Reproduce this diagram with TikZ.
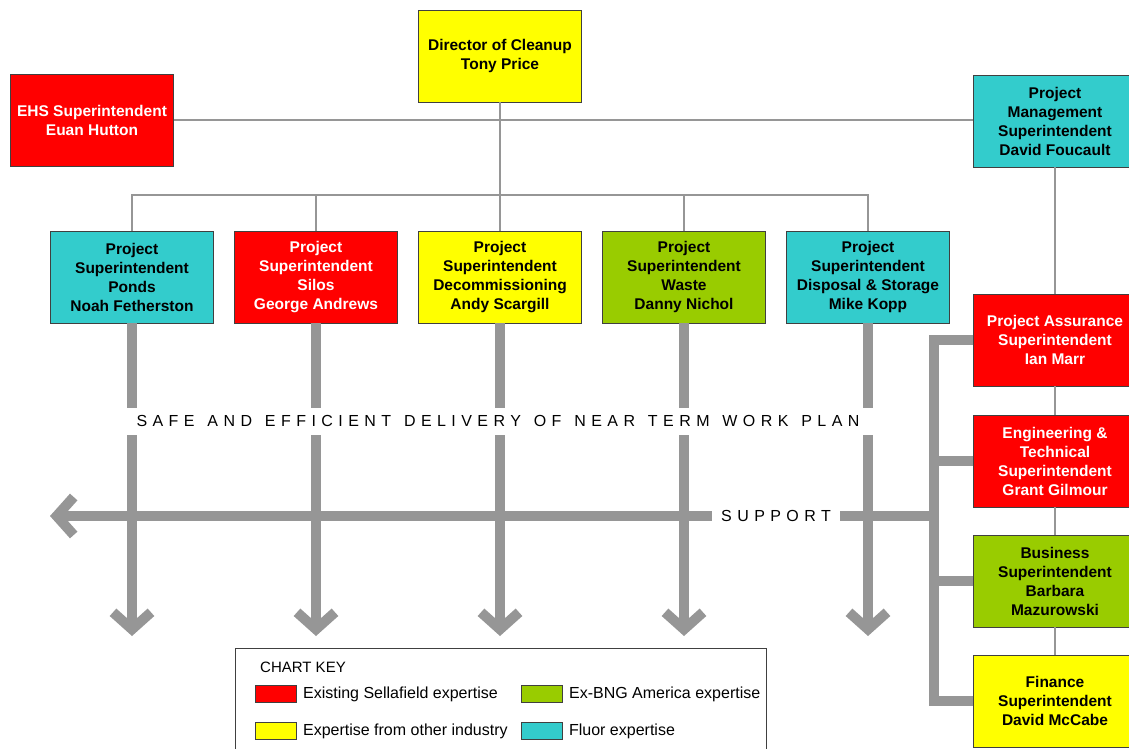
\documentclass[tikz,border=0pt]{standalone}
\usepackage{fontspec}
\setmainfont{Liberation Sans}
\newfontfamily\spacedfont[LetterSpace=34,WordSpace=1.3]{Liberation Sans}
\usetikzlibrary{arrows.meta,positioning}
\definecolor{sellared}{RGB}{255,0,0}
\definecolor{otheryellow}{RGB}{255,255,0}
\definecolor{bnggreen}{RGB}{153,204,0}
\definecolor{fluorcyan}{RGB}{51,204,204}
\definecolor{linkgray}{RGB}{150,150,150}

\begin{document}
\begin{tikzpicture}[x=1pt,y=-1pt,
    post/.style={draw=black!75, line width=0.8pt, minimum width=163pt, minimum height=92pt,
        inner sep=0pt, align=center, font=\fontsize{15.5}{19}\selectfont\bfseries},
    sella/.style={post, fill=sellared, text=white},
    other/.style={post, fill=otheryellow},
    bng/.style={post, fill=bnggreen},
    fluor/.style={post, fill=fluorcyan},
    link/.style={draw=linkgray, line width=2.5pt},
    flow/.style={draw=linkgray, line width=10pt},
    flowarrow/.style={flow, -{Straight Barb[length=17pt,width=38pt]}},
    banner/.style={fill=white, inner xsep=14pt, inner ysep=0pt, minimum height=27pt,
        font=\spacedfont\fontsize{16}{19}\selectfont},
    swatch/.style={draw=black!75, line width=0.8pt, minimum width=41pt, minimum height=17pt, inner sep=0pt},
    keytext/.style={inner sep=2pt, font=\fontsize{16}{18}\selectfont}]
    \useasboundingbox (0,0) rectangle (1129,749);
    % management line
    \node[other] (director) at (500,56) {Director of Cleanup\\Tony Price};
    \node[sella] (ehs) at (92,120) {EHS Superintendent\\Euan Hutton};
    \node[fluor] (pm) at (1055,121) {Project\\Management\\Superintendent\\David Foucault};
    \foreach \name/\kind/\txt [count=\i from 0] in {
        ponds/fluor/{Project\\Superintendent\\Ponds\\Noah Fetherston},
        silos/sella/{Project\\Superintendent\\Silos\\George Andrews},
        decom/other/{Project\\Superintendent\\Decommissioning\\Andy Scargill},
        waste/bng/{Project\\Superintendent\\Waste\\Danny Nichol},
        disposal/fluor/{Project\\Superintendent\\Disposal \& Storage\\Mike Kopp}} {
        \node[style=\kind] (\name) at ({132+184*\i},277) {\txt};
    }
    \node[sella] (assure) at (1055,340) {Project Assurance\\Superintendent\\Ian Marr};
    \node[sella] (engineer) at (1055,461) {Engineering \&\\Technical\\Superintendent\\Grant Gilmour};
    \node[bng] (business) at (1055,581) {Business\\Superintendent\\Barbara\\Mazurowski};
    \node[other] (finance) at (1055,701) {Finance\\Superintendent\\David McCabe};

    % thin reporting lines
    \coordinate (bus) at (500,195);
    \draw[link] (director) -- (bus);
    \draw[link] (ehs) -- (ehs -| pm.west);
    \draw[link] (ponds.north) |- (bus) -| (disposal.north);
    \foreach \name in {silos,decom,waste}
        \draw[link] (\name.north) -- (\name.north |- bus);
    \draw[link] (pm) -- (assure) -- (engineer) -- (business) -- (finance);

    % delivery and support arrows
    \coordinate (tips) at (0,636);
    \foreach \name in {ponds,silos,decom,waste,disposal}
        \draw[flowarrow] (\name.south) -- (\name.south |- tips);
    \coordinate (sup) at (934,516);
    \coordinate (supend) at (50,516);
    \draw[flow] (assure.west) -- (assure.west -| sup) -- (finance.west -| sup) -- (finance.west);
    \foreach \name in {engineer,business}
        \draw[flow] (\name.west) -- (\name.west -| sup);
    \draw[flowarrow] (sup) -- (supend);
    \node[banner] (plan) at (498,421) {SAFE AND EFFICIENT DELIVERY OF NEAR TERM WORK PLAN};
    \node[banner, inner xsep=9pt] (support) at (776,516) {SUPPORT};

    % chart key
    \node[draw=black!75, line width=0.8pt, minimum width=531pt, minimum height=130pt, anchor=north west] (key) at (235,648) {};
    \node[keytext, anchor=west, font=\fontsize{15}{18}\selectfont] (keytitle) at (258,667) {CHART KEY};
    \node[swatch, fill=sellared] (keysella) at (276,694) {};
    \node[keytext, right=4pt of keysella] {Existing Sellafield expertise};
    \node[swatch, fill=bnggreen] (keybng) at (542,694) {};
    \node[keytext, right=4pt of keybng] {Ex-BNG America expertise};
    \node[swatch, fill=otheryellow] (keyother) at (276,731) {};
    \node[keytext, right=4pt of keyother] {Expertise from other industry};
    \node[swatch, fill=fluorcyan] (keyfluor) at (542,731) {};
    \node[keytext, right=4pt of keyfluor] {Fluor expertise};
\end{tikzpicture}
\end{document}
